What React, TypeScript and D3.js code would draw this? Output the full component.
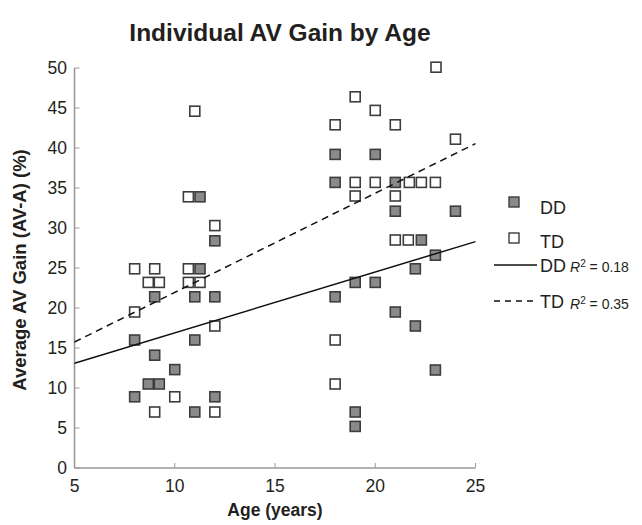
import React from "react";
import * as d3 from "d3";

const ddAge = [11.26, 12, 11.26, 9, 11, 12, 8, 11, 9, 10, 8.68, 9.23, 8, 12, 11, 18, 20, 18, 21, 21, 24, 22.3, 23, 22, 19, 20, 18, 21, 22, 23, 19, 19];
const ddGain = [33.9, 28.4, 24.9, 21.4, 21.4, 21.4, 16.0, 16.0, 14.1, 12.3, 10.5, 10.5, 8.9, 8.9, 7.0, 39.2, 39.2, 35.7, 35.7, 32.1, 32.1, 28.5, 26.6, 24.9, 23.2, 23.2, 21.4, 19.5, 17.75, 12.25, 7.0, 5.2];
const tdAge = [11, 10.68, 12, 8, 9, 8.68, 9.23, 10.68, 10.68, 11.26, 8, 12, 10, 9, 12, 23.03, 19, 20, 18, 21, 24, 19, 20, 21.7, 22.3, 23, 19, 21, 21, 21.65, 18, 18];
const tdGain = [44.6, 33.9, 30.3, 24.9, 24.9, 23.2, 23.2, 24.9, 23.2, 23.2, 19.5, 17.75, 8.9, 7.0, 7.0, 50.1, 46.4, 44.7, 42.9, 42.9, 41.1, 35.7, 35.7, 35.7, 35.7, 35.7, 34.0, 34.0, 28.5, 28.5, 16.0, 10.5];

// regression fits [intercept at age 5, slope per year]
const ddFit = [13.1, 0.76];
const tdFit = [15.75, 1.24];
const fitRange = [5, 25];

const xTicks = [5, 10, 15, 20, 25];
const yTicks = [0, 5, 10, 15, 20, 25, 30, 35, 40, 45, 50];

const W = 642;
const H = 525;
const FONT = "'Liberation Sans', Arial, Helvetica, sans-serif";

export default function App() {
  const x = d3.scaleLinear().domain([5, 25]).range([74.5, 475.5]);
  const y = d3.scaleLinear().domain([0, 50]).range([468, 68]);
  const axisColor = "#9a9a9a";
  const sq = 10;

  const fitLine = (fit: number[]) =>
    d3.line<number>().x((a) => x(a)).y((a) => y(fit[0] + fit[1] * (a - 5)))(fitRange) || "";

  const ddPts = ddAge.map((a, i) => [a, ddGain[i]]);
  const tdPts = tdAge.map((a, i) => [a, tdGain[i]]);

  return (
    <svg width={W} height={H} style={{ position: "absolute", left: 0, top: 0, background: "#fff" }} fontFamily={FONT}>
      <rect width={W} height={H} fill="#fff" />
      <text x={280} y={41} textAnchor="middle" fontWeight="bold" fontSize={24.5} fill="#231f20">
        Individual AV Gain by Age
      </text>

      {/* axes */}
      <line x1={x(5)} x2={x(25)} y1={y(0)} y2={y(0)} stroke={axisColor} strokeWidth={1.6} />
      <line x1={x(5)} x2={x(5)} y1={y(0)} y2={y(50)} stroke={axisColor} strokeWidth={1.6} />
      {xTicks.map((t) => (
        <g key={"x" + t}>
          <line x1={x(t)} x2={x(t)} y1={y(0)} y2={y(0) - 5} stroke={axisColor} strokeWidth={1} />
          <text x={x(t)} y={492} textAnchor="middle" fontSize={17.5} fill="#231f20">{t}</text>
        </g>
      ))}
      {yTicks.map((t) => (
        <g key={"y" + t}>
          <line x1={x(5)} x2={x(5) + 5} y1={y(t)} y2={y(t)} stroke={axisColor} strokeWidth={1} />
          <text x={67} y={y(t) + 6} textAnchor="end" fontSize={17.5} fill="#231f20">{t}</text>
        </g>
      ))}
      <text x={275} y={516} textAnchor="middle" fontWeight="bold" fontSize={17.5} fill="#231f20">Age (years)</text>
      <text transform={`translate(26,270) rotate(-90)`} textAnchor="middle" fontWeight="bold" fontSize={18.5} fill="#231f20">
        Average AV Gain (AV-A) (%)
      </text>

      {/* points */}
      {ddPts.map((p, i) => (
        <rect key={"d" + i} x={x(p[0]) - sq / 2} y={y(p[1]) - sq / 2} width={sq} height={sq} fill="#8a8a8a" stroke="#3d3d3d" strokeWidth={1.6} />
      ))}
      {tdPts.map((p, i) => (
        <rect key={"t" + i} x={x(p[0]) - sq / 2} y={y(p[1]) - sq / 2} width={sq} height={sq} fill="#fff" stroke="#3d3d3d" strokeWidth={1.6} />
      ))}

      {/* fit lines */}
      <path d={fitLine(ddFit)} stroke="#111" strokeWidth={1.5} fill="none" />
      <path d={fitLine(tdFit)} stroke="#111" strokeWidth={1.5} fill="none" strokeDasharray="7,5" />

      {/* legend */}
      <rect x={514 - 5} y={202 - 5} width={10} height={10} fill="#8a8a8a" stroke="#3d3d3d" strokeWidth={1.4} />
      <text x={540} y={214} fontSize={18} fill="#231f20">DD</text>
      <rect x={514 - 5} y={238 - 5} width={10} height={10} fill="#fff" stroke="#3d3d3d" strokeWidth={1.4} />
      <text x={540} y={248} fontSize={18} fill="#231f20">TD</text>
      <line x1={494} x2={537} y1={265} y2={265} stroke="#111" strokeWidth={1.5} />
      <text x={540} y={272} fontSize={18} fill="#231f20">DD</text>
      <text x={570} y={272} fontSize={14} fill="#231f20">
        <tspan fontStyle="italic">R</tspan><tspan dy={-5} fontSize={10}>2</tspan><tspan dy={5}> = 0.18</tspan>
      </text>
      <line x1={494} x2={537} y1={301} y2={301} stroke="#111" strokeWidth={1.5} strokeDasharray="6,5" />
      <text x={540} y={308} fontSize={18} fill="#231f20">TD</text>
      <text x={570} y={309} fontSize={14} fill="#231f20">
        <tspan fontStyle="italic">R</tspan><tspan dy={-5} fontSize={10}>2</tspan><tspan dy={5}> = 0.35</tspan>
      </text>
    </svg>
  );
}
